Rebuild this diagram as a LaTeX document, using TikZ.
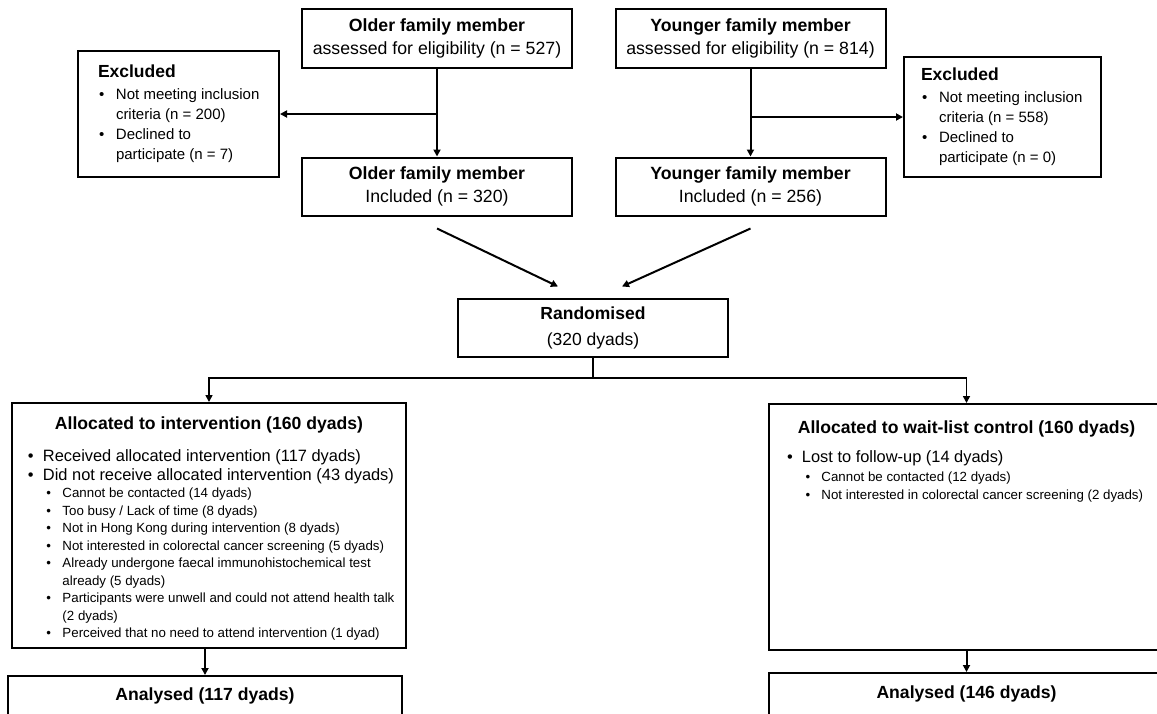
\documentclass[tikz,border=0pt]{standalone}
\usepackage{fontspec}
\setmainfont{Liberation Sans}
\usetikzlibrary{arrows.meta,positioning,calc}

\hyphenpenalty=10000
\exhyphenpenalty=10000

% font sizes (1pt = 1px of the figure)
\newcommand{\boxfont}{\fontsize{17.7pt}{23pt}\selectfont}
\newcommand{\randfont}{\fontsize{17.5pt}{26pt}\selectfont}
\newcommand{\titlefont}{\bfseries\fontsize{17.6pt}{21pt}\selectfont}
\newcommand{\exfont}{\fontsize{15pt}{20pt}\selectfont}
\newcommand{\lonefont}{\fontsize{16.4pt}{19pt}\selectfont}
\newcommand{\ltwofont}{\fontsize{13.3pt}{17.5pt}\selectfont}
\newcommand{\listsetup}{\raggedright\spaceskip=0pt\xspaceskip=0pt\relax}

% bullet items
\newcommand{\exitem}[1]{\par\hangindent=18pt\hangafter=1\noindent\makebox[18pt][l]{\hspace{1pt}\textbullet}#1}
\newcommand{\lone}[1]{\par\lonefont\hangindent=15pt\hangafter=1\noindent\makebox[15pt][l]{\textbullet}#1}
\newcommand{\ltwo}[1]{\par\ltwofont\hangindent=34.5pt\hangafter=1\noindent\hspace*{18.5pt}\makebox[16pt][l]{\textbullet}#1}

\begin{document}
\begin{tikzpicture}[x=1pt, y=-1pt, >={Triangle[length=7pt,width=7pt]},
  every node/.style={font=\boxfont},
  box/.style={rectangle, draw, line width=2pt, inner sep=0pt},
  topbox/.style={box, minimum width=270pt, minimum height=59pt, align=center},
  exbox/.style={box, font=\exfont, text width=167pt, execute at begin node=\listsetup},
  listbox/.style={box, inner xsep=7pt, text width=380pt, execute at begin node=\listsetup},
  link/.style={->, line width=2pt}]

\useasboundingbox (0,0) rectangle (1157,713);

% screening
\node[topbox] (older) at (437,38.5) {\textbf{Older family member}\\assessed for eligibility (n = 527)};
\node[topbox] (younger) at (750.5,38.5) {\textbf{Younger family member}\\assessed for eligibility (n = 814)};

\node[exbox, inner xsep=17pt, minimum height=126pt] (exclold) at (178.5,114) {%
  \leftskip=3pt
  {\bfseries\fontsize{17.5pt}{20pt}\selectfont Excluded\par}\vspace{2pt}
  \exitem{Not meeting inclusion\newline criteria (n = 200)}
  \exitem{Declined to\newline participate (n = 7)}\par};
\node[exbox, inner xsep=15pt, minimum height=120pt] (exclyoung) at (1002.5,117) {%
  \leftskip=2pt
  {\bfseries\fontsize{17.5pt}{20pt}\selectfont Excluded\par}\vspace{2pt}
  \exitem{Not meeting inclusion\newline criteria (n = 558)}
  \exitem{Declined to\newline participate (n = 0)}\par};

\node[topbox, minimum height=58pt] (inclold) at (437,186.5) {\textbf{Older family member}\\Included (n = 320)};
\node[topbox, minimum height=58pt] (inclyoung) at (750.5,186.5) {\textbf{Younger family member}\\Included (n = 256)};

% randomisation
\node[topbox, minimum height=58pt, font=\randfont] (random) at (593,327.5) {\textbf{Randomised}\\(320 dyads)};
\coordinate (split) at (593,378);

% allocation
\node[listbox, minimum height=245pt] (interv) at (209,525.5) {%
  \par\vspace*{-2pt}
  {\centering\titlefont Allocated to intervention (160 dyads)\par}
  \leftskip=9pt\vspace{13pt}
  \lone{Received allocated intervention (117 dyads)}
  \lone{Did not receive allocated intervention (43 dyads)}
  \ltwo{Cannot be contacted (14 dyads)}
  \ltwo{Too busy / Lack of time (8 dyads)}
  \ltwo{Not in Hong Kong during intervention (8 dyads)}
  \ltwo{Not interested in colorectal cancer screening (5 dyads)}
  \ltwo{Already undergone faecal immunohistochemical test\newline already (5 dyads)}
  \ltwo{Participants were unwell and could not attend health talk\newline (2 dyads)}
  \ltwo{Perceived that no need to attend intervention (1 dyad)}\par};

\node[listbox, text width=381pt, minimum height=246pt, anchor=north] (waitlist) at (966.5,403) {%
  {\centering\titlefont Allocated to wait-list control (160 dyads)\par}
  \leftskip=11pt\vspace{10pt}
  \lone{Lost to follow-up (14 dyads)}\par\vspace{2pt}
  \ltwo{Cannot be contacted (12 dyads)}
  \ltwo{Not interested in colorectal cancer screening (2 dyads)}\par
  \vspace{117pt}\mbox{}\par};

% analysis
\node[box, minimum width=394pt, minimum height=40pt, font=\titlefont] (analint) at (205,696) {Analysed (117 dyads)};
\node[box, minimum width=395pt, minimum height=42pt, font=\titlefont] (analwait) at (966.5,694) {Analysed (146 dyads)};

\draw[link] (older) -- (inclold);
\draw[link] (older.south |- exclold.east) -- (exclold.east);
\draw[link] (younger) -- (inclyoung);
\draw[link] (younger.south |- exclyoung.west) -- (exclyoung.west);
\draw[link] ([yshift=-12pt]inclold.south) -- ([xshift=-35pt,yshift=11pt]random.north);
\draw[link] ([yshift=-12pt]inclyoung.south) -- ([xshift=29pt,yshift=11pt]random.north);
\draw[line width=1.6pt] (random) -- (split);
\draw[link, line width=1.6pt] (split) -| (interv);
\draw[link, line width=1.6pt] (split) -| (waitlist);
\draw[link] (analint |- interv.south) -- (analint);
\draw[link] (waitlist) -- (analwait);

\end{tikzpicture}
\end{document}
